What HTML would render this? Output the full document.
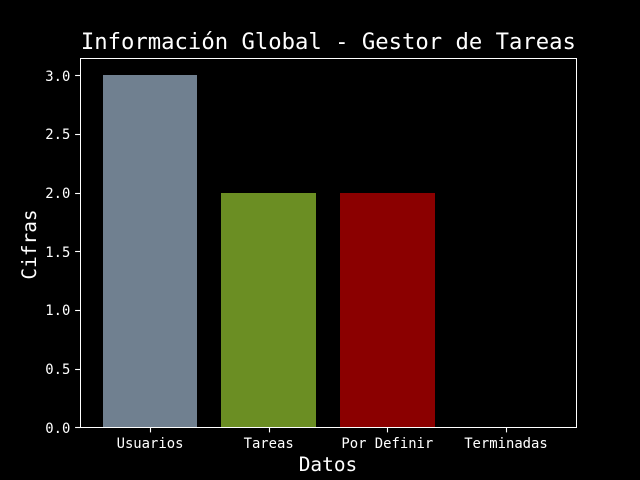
<!DOCTYPE html>
<html lang="es">
<head>
<meta charset="utf-8">
<title>Información Global - Gestor de Tareas</title>
<style>
html,body{margin:0;padding:0;background:#000;width:640px;height:480px;overflow:hidden}
svg{display:block}
text{font-family:"DejaVu Sans Mono","Liberation Mono",monospace;fill:#fff}
</style>
</head>
<body>
<svg id="chart" xmlns="http://www.w3.org/2000/svg" width="640" height="480" viewBox="0 0 640 480">
<rect x="0" y="0" width="640" height="480" fill="#000"/>
<g id="bars"></g>
<g id="ticks"></g>
<rect x="80.5" y="58.5" width="496" height="369" fill="none" stroke="#fff" stroke-width="1.11" shape-rendering="crispEdges"/>
<text x="328.4" y="49" font-size="22.22" text-anchor="middle">Información Global - Gestor de Tareas</text>
<text x="328" y="471" font-size="19.44" text-anchor="middle">Datos</text>
<text transform="translate(36 244.5) rotate(-90)" font-size="19.44" text-anchor="middle">Cifras</text>
</svg>
<script>
const categories = ["Usuarios", "Tareas", "Por Definir", "Terminadas"];
const values = [3, 2, 2, 0];
const barColors = ["#708090", "#6b8e23", "#8b0000", "#000080"];
const yTickValues = [0, 0.5, 1, 1.5, 2, 2.5, 3];
const yTickLabels = ["0.0", "0.5", "1.0", "1.5", "2.0", "2.5", "3.0"];

const NS = "http://www.w3.org/2000/svg";
const plot = { left: 80, right: 576, top: 57.6, bottom: 427.2 };
const barWidth = 0.8;
const maxValue = Math.max.apply(null, values.concat([0]));
const yMax = maxValue * 1.05;
const xMin = -barWidth / 2 - (categories.length - 1 + barWidth) * 0.05;
const xMax = categories.length - 1 + barWidth / 2 + (categories.length - 1 + barWidth) * 0.05;

function xScale(v) {
  return plot.left + (v - xMin) * (plot.right - plot.left) / (xMax - xMin);
}
function yScale(v) {
  return plot.bottom - v * (plot.bottom - plot.top) / yMax;
}
function make(tag, attrs, parent) {
  const el = document.createElementNS(NS, tag);
  for (const k in attrs) el.setAttribute(k, attrs[k]);
  parent.appendChild(el);
  return el;
}

const barsG = document.getElementById("bars");
const ticksG = document.getElementById("ticks");

categories.forEach(function (cat, i) {
  const x0 = Math.round(xScale(i - barWidth / 2));
  const x1 = Math.round(xScale(i + barWidth / 2));
  const yTop = Math.round(yScale(values[i]));
  const yBase = Math.round(yScale(0));
  const bar = make("rect", { x: x0, y: yTop, width: x1 - x0, height: yBase - yTop, fill: barColors[i], "shape-rendering": "crispEdges" }, barsG);
  
  

  const tx = Math.round(xScale(i)) + 0.5;
  const tick = make("line", { x1: tx, x2: tx, y1: 427.5, y2: 432.4, stroke: "#fff", "stroke-width": 1.11 }, ticksG);
  
  

  const label = make("text", { x: xScale(i), y: 448, "font-size": 13.89, "text-anchor": "middle" }, ticksG);
  
  
  label.textContent = cat;
});

yTickValues.forEach(function (v, i) {
  const ty = Math.round(yScale(v)) + 0.5;
  const tick = make("line", { x1: 75.1, x2: 80.5, y1: ty, y2: ty, stroke: "#fff", "stroke-width": 1.11 }, ticksG);
  
  

  const label = make("text", { x: 70.3, y: Math.round(yScale(v) + 5.5), "font-size": 13.89, "text-anchor": "end" }, ticksG);
  
  
  label.textContent = yTickLabels[i];
});
</script>
</body>
</html>
